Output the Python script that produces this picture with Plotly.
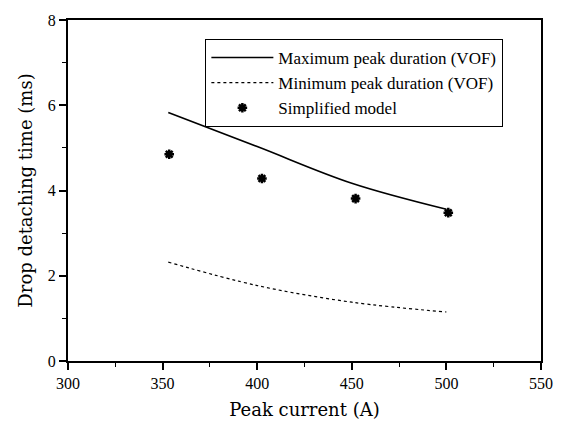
import plotly.graph_objects as go

current = [353, 400, 450, 500]
max_vof = [5.83, 5.03, 4.17, 3.56]
min_vof = [2.32, 1.77, 1.38, 1.15]
model_x = [353.5, 402.5, 452, 501]
model_y = [4.85, 4.28, 3.81, 3.48]

FONT = "Liberation Serif"
TFONT = "DejaVu Serif"

fig = go.Figure()
fig.add_trace(go.Scatter(x=current, y=max_vof, mode="lines", name="Maximum peak duration (VOF)",
                         line=dict(color="black", width=1.6, shape="spline")))
fig.add_trace(go.Scatter(x=current, y=min_vof, mode="lines", name="Minimum peak duration (VOF)",
                         line=dict(color="black", width=1.2, dash="dot", shape="spline")))
fig.add_trace(go.Scatter(x=model_x, y=model_y, mode="markers", name="Simplified model",
                         marker=dict(symbol="asterisk-open", size=8, color="black",
                                     line=dict(color="black", width=2.5))))

fig.update_layout(
    width=566, height=429,
    margin=dict(l=68, r=25, t=18, b=66),
    paper_bgcolor="white", plot_bgcolor="white",
    font=dict(family=FONT, color="black", size=15),
    showlegend=True,
    legend=dict(x=0.29, y=0.945, xanchor="left", yanchor="top",
                bordercolor="black", borderwidth=1.2, bgcolor="white",
                font=dict(family=FONT, size=17, color="black"), tracegroupgap=0,
                itemwidth=62),
    xaxis=dict(range=[300, 550], tickvals=[300, 350, 400, 450, 500, 550],
               showgrid=False, zeroline=False, showline=True, linecolor="black", linewidth=2,
               mirror=True, ticks="outside", ticklen=7, tickwidth=1.5, tickcolor="black",
               minor=dict(ticks="outside", ticklen=4, tickwidth=1, tickcolor="black", dtick=25),
               tickfont=dict(family=FONT, size=16, color="black"),
               title=dict(text="Peak current (A)", font=dict(family=TFONT, size=18, color="black"), standoff=12)),
    yaxis=dict(range=[0, 8], tickvals=[0, 2, 4, 6, 8],
               showgrid=False, zeroline=False, showline=True, linecolor="black", linewidth=2,
               mirror=True, ticks="outside", ticklen=7, tickwidth=1.5, tickcolor="black",
               minor=dict(ticks="outside", ticklen=4, tickwidth=1, tickcolor="black", dtick=1),
               tickfont=dict(family=FONT, size=16, color="black"),
               title=dict(text="Drop detaching time (ms)", font=dict(family=TFONT, size=18, color="black"), standoff=10)),
)

fig.write_html("out.html")
